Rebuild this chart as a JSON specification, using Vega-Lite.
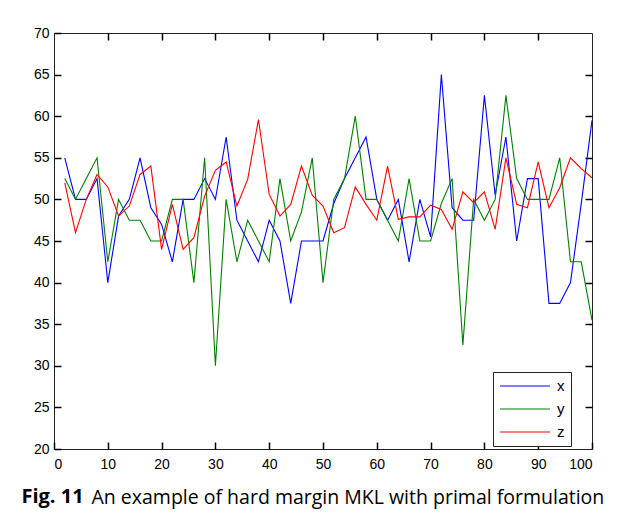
{
  "$schema": "https://vega.github.io/schema/vega-lite/v6.json",
  "width": 538,
  "height": 416,
  "padding": {"left": 54, "top": 33, "right": 32, "bottom": 71},
  "autosize": {"type": "none"},
  "background": "white",
  "config": {
    "view": {"stroke": "#222222", "strokeWidth": 1},
    "axis": {"labelFont": "Liberation Sans", "labelFontSize": 14, "labelColor": "black", "domain": false, "grid": false}
  },
  "title": {
    "text": "Fig. 11",
    "orient": "bottom",
    "anchor": "start",
    "font": "Open Sans",
    "fontSize": 20,
    "fontWeight": "bold",
    "color": "black",
    "dx": -12,
    "offset": -20
  },
  "data": {"values": [
    {"t":2,"s":"x","v":55},{"t":4,"s":"x","v":50},{"t":6,"s":"x","v":50},{"t":8,"s":"x","v":52.5},{"t":10,"s":"x","v":40},
    {"t":12,"s":"x","v":48},{"t":14,"s":"x","v":50},{"t":16,"s":"x","v":55},{"t":18,"s":"x","v":49},{"t":20,"s":"x","v":47},
    {"t":22,"s":"x","v":42.5},{"t":24,"s":"x","v":50},{"t":26,"s":"x","v":50},{"t":28,"s":"x","v":52.5},{"t":30,"s":"x","v":50},
    {"t":32,"s":"x","v":57.5},{"t":34,"s":"x","v":47.5},{"t":36,"s":"x","v":45},{"t":38,"s":"x","v":42.5},{"t":40,"s":"x","v":47.5},
    {"t":42,"s":"x","v":45},{"t":44,"s":"x","v":37.5},{"t":46,"s":"x","v":45},{"t":48,"s":"x","v":45},{"t":50,"s":"x","v":45},
    {"t":52,"s":"x","v":49.5},{"t":54,"s":"x","v":52.5},{"t":56,"s":"x","v":55},{"t":58,"s":"x","v":57.5},{"t":60,"s":"x","v":50},
    {"t":62,"s":"x","v":47.5},{"t":64,"s":"x","v":50},{"t":66,"s":"x","v":42.5},{"t":68,"s":"x","v":50},{"t":70,"s":"x","v":45.5},
    {"t":72,"s":"x","v":65},{"t":74,"s":"x","v":49},{"t":76,"s":"x","v":47.5},{"t":78,"s":"x","v":47.5},{"t":80,"s":"x","v":62.5},
    {"t":82,"s":"x","v":50.5},{"t":84,"s":"x","v":57.5},{"t":86,"s":"x","v":45},{"t":88,"s":"x","v":52.5},{"t":90,"s":"x","v":52.5},
    {"t":92,"s":"x","v":37.5},{"t":94,"s":"x","v":37.5},{"t":96,"s":"x","v":40},{"t":98,"s":"x","v":49.5},{"t":100,"s":"x","v":59.5},
    {"t":2,"s":"y","v":52.5},{"t":4,"s":"y","v":50},{"t":6,"s":"y","v":52.5},{"t":8,"s":"y","v":55},{"t":10,"s":"y","v":42.5},
    {"t":12,"s":"y","v":50},{"t":14,"s":"y","v":47.5},{"t":16,"s":"y","v":47.5},{"t":18,"s":"y","v":45},{"t":20,"s":"y","v":45},
    {"t":22,"s":"y","v":50},{"t":24,"s":"y","v":50},{"t":26,"s":"y","v":40},{"t":28,"s":"y","v":55},{"t":30,"s":"y","v":30},
    {"t":32,"s":"y","v":50},{"t":34,"s":"y","v":42.5},{"t":36,"s":"y","v":47.5},{"t":38,"s":"y","v":45},{"t":40,"s":"y","v":42.5},
    {"t":42,"s":"y","v":52.5},{"t":44,"s":"y","v":45},{"t":46,"s":"y","v":48.5},{"t":48,"s":"y","v":55},{"t":50,"s":"y","v":40},
    {"t":52,"s":"y","v":50},{"t":54,"s":"y","v":52.5},{"t":56,"s":"y","v":60},{"t":58,"s":"y","v":50},{"t":60,"s":"y","v":50},
    {"t":62,"s":"y","v":47.5},{"t":64,"s":"y","v":45},{"t":66,"s":"y","v":52.5},{"t":68,"s":"y","v":45},{"t":70,"s":"y","v":45},
    {"t":72,"s":"y","v":49.5},{"t":74,"s":"y","v":52.5},{"t":76,"s":"y","v":32.5},{"t":78,"s":"y","v":50},{"t":80,"s":"y","v":47.5},
    {"t":82,"s":"y","v":50},{"t":84,"s":"y","v":62.5},{"t":86,"s":"y","v":52.5},{"t":88,"s":"y","v":50},{"t":90,"s":"y","v":50},
    {"t":92,"s":"y","v":50},{"t":94,"s":"y","v":55},{"t":96,"s":"y","v":42.5},{"t":98,"s":"y","v":42.5},{"t":100,"s":"y","v":35.5},
    {"t":2,"s":"z","v":52},{"t":4,"s":"z","v":46},{"t":6,"s":"z","v":50},{"t":8,"s":"z","v":53},{"t":10,"s":"z","v":51.5},
    {"t":12,"s":"z","v":48},{"t":14,"s":"z","v":49.2},{"t":16,"s":"z","v":53},{"t":18,"s":"z","v":54},{"t":20,"s":"z","v":44},
    {"t":22,"s":"z","v":49.4},{"t":24,"s":"z","v":44},{"t":26,"s":"z","v":45.4},{"t":28,"s":"z","v":50.4},{"t":30,"s":"z","v":53.5},
    {"t":32,"s":"z","v":54.5},{"t":34,"s":"z","v":49.2},{"t":36,"s":"z","v":52.4},{"t":38,"s":"z","v":59.6},{"t":40,"s":"z","v":50.6},
    {"t":42,"s":"z","v":48},{"t":44,"s":"z","v":49.4},{"t":46,"s":"z","v":54},{"t":48,"s":"z","v":50.5},{"t":50,"s":"z","v":49.2},
    {"t":52,"s":"z","v":46},{"t":54,"s":"z","v":46.6},{"t":56,"s":"z","v":51.5},{"t":58,"s":"z","v":49.4},{"t":60,"s":"z","v":47.5},
    {"t":62,"s":"z","v":54},{"t":64,"s":"z","v":47.6},{"t":66,"s":"z","v":47.9},{"t":68,"s":"z","v":47.9},{"t":70,"s":"z","v":49.3},
    {"t":72,"s":"z","v":48.8},{"t":74,"s":"z","v":46.4},{"t":76,"s":"z","v":50.9},{"t":78,"s":"z","v":49.6},{"t":80,"s":"z","v":50.9},
    {"t":82,"s":"z","v":46.4},{"t":84,"s":"z","v":55},{"t":86,"s":"z","v":49.4},{"t":88,"s":"z","v":49},{"t":90,"s":"z","v":54.5},
    {"t":92,"s":"z","v":49},{"t":94,"s":"z","v":51.4},{"t":96,"s":"z","v":55},{"t":98,"s":"z","v":53.7},{"t":100,"s":"z","v":52.6}
  ]},
  "resolve": {"scale": {"x": "independent", "y": "independent"}, "axis": {"x": "independent", "y": "independent"}},
  "layer": [
    {
      "mark": {"type": "line", "strokeWidth": 1.1},
      "encoding": {
        "x": {"field": "t", "type": "quantitative", "scale": {"domain": [0, 100], "nice": false},
              "axis": {"orient": "bottom", "values": [0,10,20,30,40,50,60,70,80,90,100], "ticks": true, "tickColor": "black", "tickSize": -7, "tickWidth": 1.5, "labelPadding": 15,
                       "title": "An example of hard margin MKL with primal formulation",
                       "titleFont": "Open Sans", "titleFontSize": 19.5, "titleFontWeight": "normal", "titleColor": "black",
                       "titleAlign": "left", "titleAnchor": "start", "titleX": 37, "titleY": 54, "titleBaseline": "alphabetic"}},
        "y": {"field": "v", "type": "quantitative", "scale": {"domain": [20, 70], "nice": false, "zero": false},
              "axis": {"orient": "left", "values": [20,25,30,35,40,45,50,55,60,65,70], "ticks": true, "tickColor": "black", "tickSize": -7, "tickWidth": 1.5, "labelPadding": 12, "title": null}},
        "color": {"field": "s", "type": "nominal",
                  "scale": {"domain": ["x", "y", "z"], "range": ["#0000FF", "#008000", "#FF0000"]},
                  "legend": {"title": null, "orient": "none", "legendX": 439, "legendY": 339, "symbolType": "stroke",
                             "symbolSize": 2500, "symbolStrokeWidth": 1.1, "clipHeight": 16, "labelFont": "Liberation Sans", "labelFontSize": 15,
                             "labelColor": "black", "strokeColor": "#222222", "fillColor": "white", "padding": 6,
                             "rowPadding": 7, "labelOffset": 6, "cornerRadius": 0}}
      }
    },
    {
      "mark": {"type": "line", "strokeOpacity": 0},
      "encoding": {
        "x": {"field": "t", "type": "quantitative", "scale": {"domain": [0, 100], "nice": false},
              "axis": {"orient": "top", "values": [10,20,30,40,50,60,70,80,90], "ticks": true, "tickColor": "black", "tickSize": -7, "tickWidth": 1.5, "labels": false, "title": null}},
        "y": {"field": "v", "type": "quantitative", "scale": {"domain": [20, 70], "nice": false, "zero": false},
              "axis": {"orient": "right", "values": [25,30,35,40,45,50,55,60,65], "ticks": true, "tickColor": "black", "tickSize": -7, "tickWidth": 1.5, "labels": false, "title": null}},
        "detail": {"field": "s", "type": "nominal"}
      }
    }
  ]
}
